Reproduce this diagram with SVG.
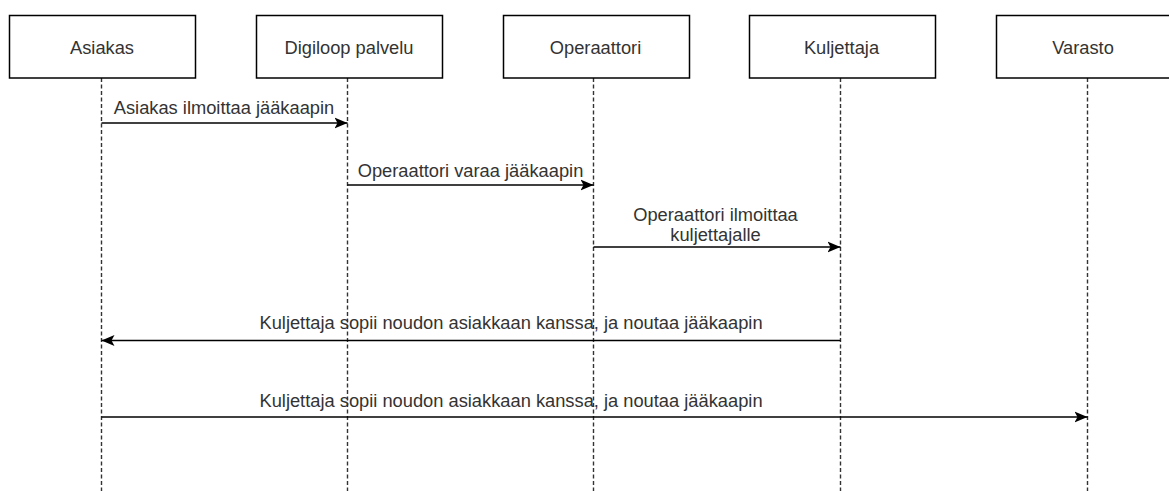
<svg xmlns="http://www.w3.org/2000/svg" width="1169" height="491" viewBox="0 0 1169 491">
<style>
.box{fill:#fff;stroke:#000;stroke-width:1.5}
.life{stroke:#333;stroke-width:1.4;stroke-dasharray:4 2.5;fill:none}
.msg{stroke:#000;stroke-width:1.5;fill:none}
text{font-family:"Liberation Sans",Arial,sans-serif;font-size:18.3px;fill:#333;text-anchor:middle}
</style>
<defs>
<marker id="ah" viewBox="0 0 14 12" refX="13" refY="6" markerWidth="14" markerHeight="12" markerUnits="userSpaceOnUse" orient="auto">
<path d="M0,0.5 L13,6 L0,11.5 L3,6 Z" fill="#000"/>
</marker>
</defs>
<g id="lifelines">
<line class="life" x1="101.5" y1="78" x2="101.5" y2="491"/>
<line class="life" x1="347.5" y1="78" x2="347.5" y2="491"/>
<line class="life" x1="593.5" y1="78" x2="593.5" y2="491"/>
<line class="life" x1="840.5" y1="78" x2="840.5" y2="491"/>
<line class="life" x1="1087.5" y1="78" x2="1087.5" y2="491"/>
</g>
<g id="asiakas"><rect class="box" x="9.5" y="15.5" width="186" height="62.5"/><text x="102" y="53.5">Asiakas</text></g>
<g id="digiloop"><rect class="box" x="256.5" y="15.5" width="186" height="62.5"/><text x="349" y="53.5">Digiloop palvelu</text></g>
<g id="operaattori"><rect class="box" x="503.5" y="15.5" width="186" height="62.5"/><text x="595.5" y="53.5">Operaattori</text></g>
<g id="kuljettaja"><rect class="box" x="749.5" y="15.5" width="186" height="62.5"/><text x="841.5" y="53.5">Kuljettaja</text></g>
<g id="varasto"><rect class="box" x="996.5" y="15.5" width="186" height="62.5"/><text x="1083" y="53.5">Varasto</text></g>
<g id="connectors">
<line class="msg" x1="101.5" y1="123" x2="347.5" y2="123" marker-end="url(#ah)"/>
<text x="224" y="114">Asiakas ilmoittaa jääkaapin</text>
<line class="msg" x1="347.5" y1="185" x2="593.5" y2="185" marker-end="url(#ah)"/>
<text x="470.5" y="176.5">Operaattori varaa jääkaapin</text>
<line class="msg" x1="593.5" y1="247" x2="840.5" y2="247" marker-end="url(#ah)"/>
<text x="715.5" y="221">Operaattori ilmoittaa</text>
<text x="715.5" y="240.5">kuljettajalle</text>
<line class="msg" x1="840.5" y1="340.5" x2="101.5" y2="340.5" marker-end="url(#ah)"/>
<text x="511" y="329">Kuljettaja sopii noudon asiakkaan kanssa, ja noutaa jääkaapin</text>
<line class="msg" x1="101.5" y1="417" x2="1087.5" y2="417" marker-end="url(#ah)"/>
<text x="511" y="406.5">Kuljettaja sopii noudon asiakkaan kanssa, ja noutaa jääkaapin</text>
</g>
</svg>
